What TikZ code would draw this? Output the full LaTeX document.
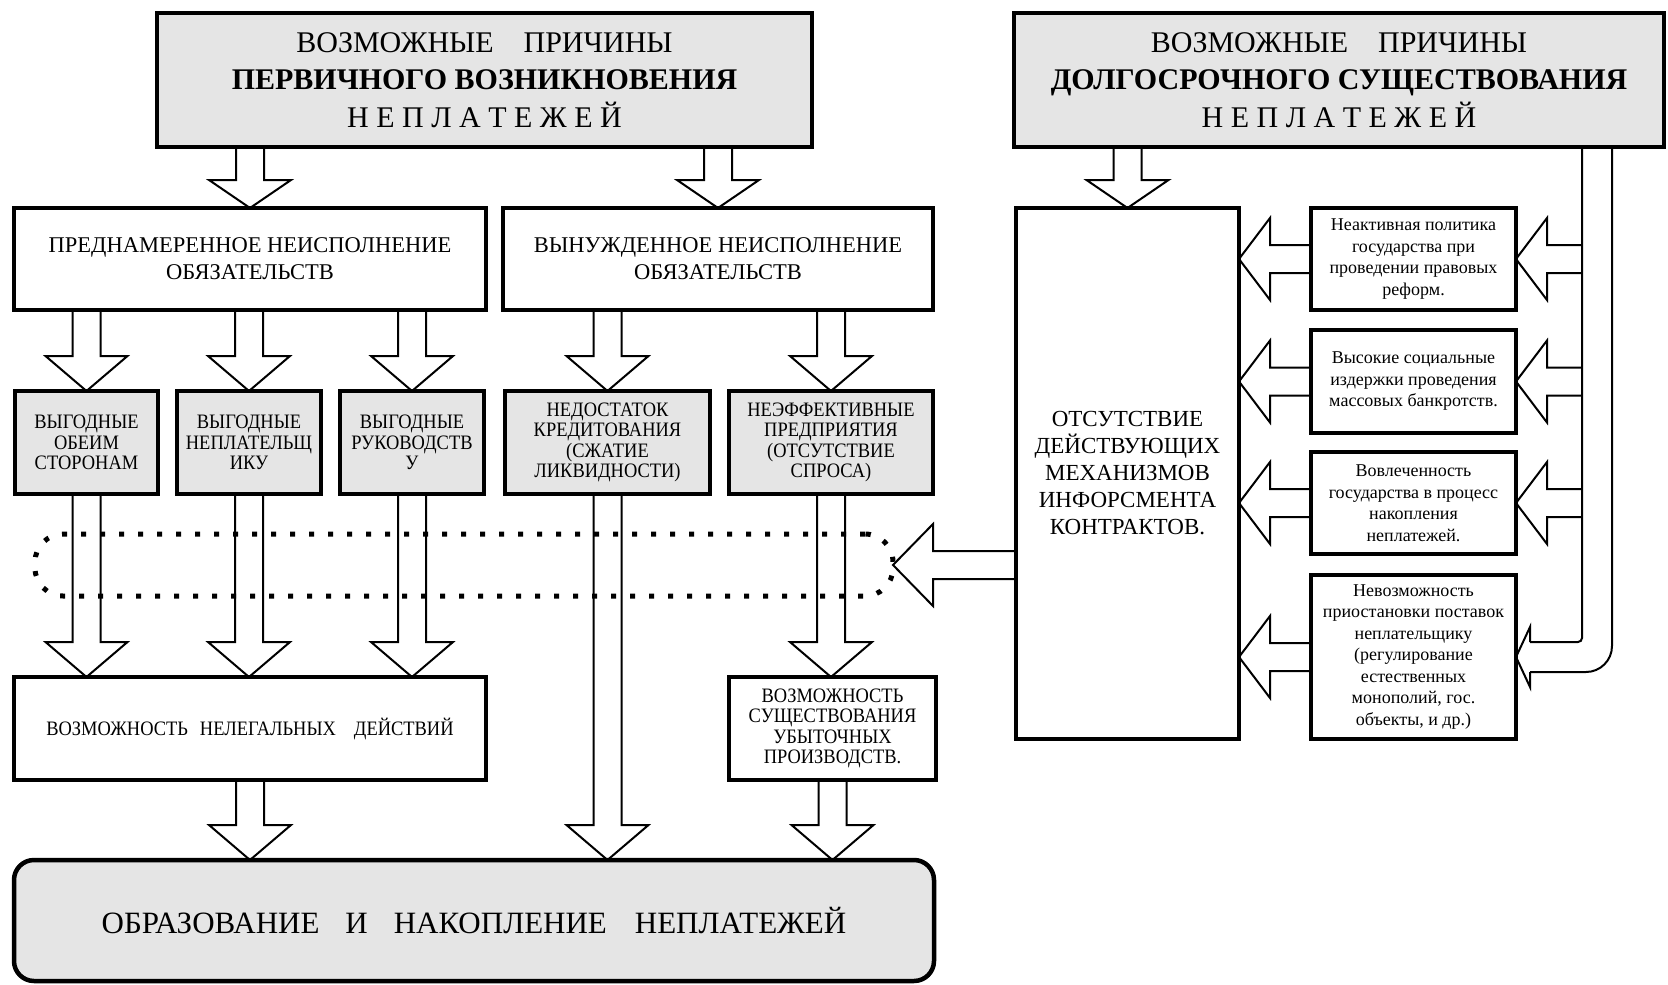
\documentclass[tikz,border=0pt]{standalone}
\usepackage{fontspec}
\setmainfont{Liberation Serif}
\newfontfamily\condfont[FakeStretch=0.9]{Liberation Serif}
\usetikzlibrary{calc}

\begin{document}
\begin{tikzpicture}[x=1pt, y=-1pt,
      box/.style = {rectangle, draw, line width=4.5pt,% frames of all blocks
                    align=center, inner sep=0pt, outer sep=0pt},
     gbox/.style = {box, fill=black!10},
titletext/.style = {font=\fontsize{30}{37.5}\selectfont},
  boxtext/.style = {font=\fontsize{22.5}{27}\selectfont},
  captext/.style = {font=\condfont\fontsize{20.5}{20.5}\selectfont},
 notetext/.style = {font=\fontsize{18}{21.5}\selectfont},
   darrow/.style = {line width=2pt, to path={% hollow arrow going down
        ([xshift=-14pt]\tikztostart) -- ([shift={(-14pt,#1pt)}]\tikztotarget)
        -- ++(-27pt,0pt) -- (\tikztotarget) -- ++(41pt,#1pt) -- ++(-27pt,0pt)
        -- ([xshift=14pt]\tikztostart)}},
 darrow/.default = 35,
   larrow/.style = {line width=2pt, to path={% hollow arrow going left
        ([yshift=14pt]\tikztostart) -- ([shift={(#1pt,14pt)}]\tikztotarget)
        -- ++(0pt,27pt) -- (\tikztotarget) -- ++(#1pt,-41pt) -- ++(0pt,27pt)
        -- ([yshift=-14pt]\tikztostart)}},
 larrow/.default = 31,
     band/.style = {draw, line width=5pt, dash pattern=on 5pt off 14pt,
                    rounded corners=28pt, inner sep=0pt, outer sep=0pt},
                    ]
\useasboundingbox (0,0) rectangle (1668,985);

% causes
\node[gbox, titletext, minimum width=655pt, minimum height=134pt] (top1) at (484.5,80)
     {ВОЗМОЖНЫЕ\hspace{30pt}ПРИЧИНЫ\\ \textbf{ПЕРВИЧНОГО ВОЗНИКНОВЕНИЯ}\\ Н Е П Л А Т Е Ж Е Й};
\node[gbox, titletext, minimum width=650pt, minimum height=134pt] (top2) at (1339,80)
     {ВОЗМОЖНЫЕ\hspace{30pt}ПРИЧИНЫ\\ \textbf{ДОЛГОСРОЧНОГО СУЩЕСТВОВАНИЯ}\\ Н Е П Л А Т Е Ж Е Й};

\node[box, boxtext, minimum width=472pt, minimum height=102pt] (pred) at (250,259)
     {ПРЕДНАМЕРЕННОЕ НЕИСПОЛНЕНИЕ\\ ОБЯЗАТЕЛЬСТВ};
\node[box, boxtext, minimum width=430pt, minimum height=102pt] (vyn) at (718,259)
     {ВЫНУЖДЕННОЕ НЕИСПОЛНЕНИЕ\\ ОБЯЗАТЕЛЬСТВ};

\foreach \n/\x/\w/\t in {s1/86.5/143/{ВЫГОДНЫЕ\\ ОБЕИМ\\ СТОРОНАМ},
                         s2/249/144/{ВЫГОДНЫЕ\\ НЕПЛАТЕЛЬЩ\\ ИКУ},
                         s3/412/144/{ВЫГОДНЫЕ\\ РУКОВОДСТВ\\ У},
                         s4/607.5/205/{НЕДОСТАТОК\\ КРЕДИТОВАНИЯ\\ (СЖАТИЕ\\ ЛИКВИДНОСТИ)},
                         s5/831/204/{НЕЭФФЕКТИВНЫЕ\\ ПРЕДПРИЯТИЯ\\ (ОТСУТСТВИЕ\\ СПРОСА)}}
    \node[gbox, captext, minimum width=\w pt, minimum height=103pt] (\n) at (\x,442.5) {\t};

\node[box, captext, minimum width=472pt, minimum height=103pt] (illeg) at (250,728.5)
     {ВОЗМОЖНОСТЬ\hspace{12pt}НЕЛЕГАЛЬНЫХ\hspace{18pt}ДЕЙСТВИЙ};
\node[box, captext, minimum width=207pt, minimum height=103pt] (loss) at (832.5,728.5)
     {ВОЗМОЖНОСТЬ\\ СУЩЕСТВОВАНИЯ\\ УБЫТОЧНЫХ\\ ПРОИЗВОДСТВ.};
\node[gbox, font=\fontsize{31}{37}\selectfont, rounded corners=20pt, minimum width=920pt, minimum height=121pt] (bottom) at (474,920.5)
     {ОБРАЗОВАНИЕ\hspace{26pt}И\hspace{26pt}НАКОПЛЕНИЕ\hspace{28pt}НЕПЛАТЕЖЕЙ};

\node[band, minimum width=858pt, minimum height=62pt] (dotband) at (464,565) {};

% long-term side
\node[box, font=\fontsize{23}{27}\selectfont, minimum width=223pt, minimum height=531pt] (tall) at (1127.5,473.5)
     {ОТСУТСТВИЕ\\ ДЕЙСТВУЮЩИХ\\ МЕХАНИЗМОВ\\ ИНФОРСМЕНТА\\ КОНТРАКТОВ.};
\node[box, notetext, minimum width=205pt, minimum height=102pt] (r1) at (1413.5,259)
     {Неактивная политика\\ государства при\\ проведении правовых\\ реформ.};
\node[box, notetext, minimum width=205pt, minimum height=103pt] (r2) at (1413.5,381.5)
     {Высокие социальные\\ издержки проведения\\ массовых банкротств.};
\node[box, notetext, minimum width=205pt, minimum height=102pt] (r3) at (1413.5,503)
     {Вовлеченность\\ государства в процесс\\ накопления\\ неплатежей.};
\node[box, notetext, minimum width=205pt, minimum height=164pt] (r4) at (1413.5,657)
     {Невозможность\\ приостановки поставок\\ неплательщику\\ (регулирование\\ естественных\\ монополий, гос.\\ объекты, и др.)};

\coordinate (pin)  at ([xshift=243pt]top2.south);
\coordinate (pout) at ([xshift=273pt]top2.south);

% arrows
\draw[darrow=28] (top1.south -| pred.north) to (pred.north);
\draw[darrow=28] (top1.south -| vyn.north) to (vyn.north);
\draw[darrow=28] (top2.south -| tall.north) to (tall.north);
\foreach \s in {s1,s2,s3}
    \draw[darrow] (pred.south -| \s.north) to (\s.north);
\foreach \s in {s4,s5}
    \draw[darrow] (vyn.south -| \s.north) to (\s.north);
\foreach \s in {s1,s2,s3}
    \draw[darrow] (\s.south) to (\s.south |- illeg.north);
\draw[darrow] (s4.south) to (s4.south |- bottom.north);
\draw[darrow] (s5.south) to (s5.south |- loss.north);
\draw[darrow] (illeg.south) to (illeg.south |- bottom.north);
\draw[darrow] (loss.south) to (loss.south |- bottom.north);

\draw[larrow=40] (dotband.east -| tall.west) to (dotband.east);
\foreach \r in {r1,r2,r3,r4}
    \draw[larrow] (\r.west) to (\r.west -| tall.east);
\foreach \r in {r1,r2,r3}
    \draw[larrow] (\r.east -| pin) to (\r.east);

% pipe from the right title
\draw[line width=2pt] ([shift={(14pt,15pt)}]r4.east) -- ++(0pt,15pt) -- (r4.east)
     -- ++(14pt,-30pt) -- ++(0pt,15pt);
\draw[line width=2pt, rounded corners=4pt] (pin) |- ([shift={(14pt,15pt)}]r4.east);
\draw[line width=2pt, rounded corners=26pt] (pout) |- ([shift={(14pt,-15pt)}]r4.east);
\end{tikzpicture}
\end{document}
